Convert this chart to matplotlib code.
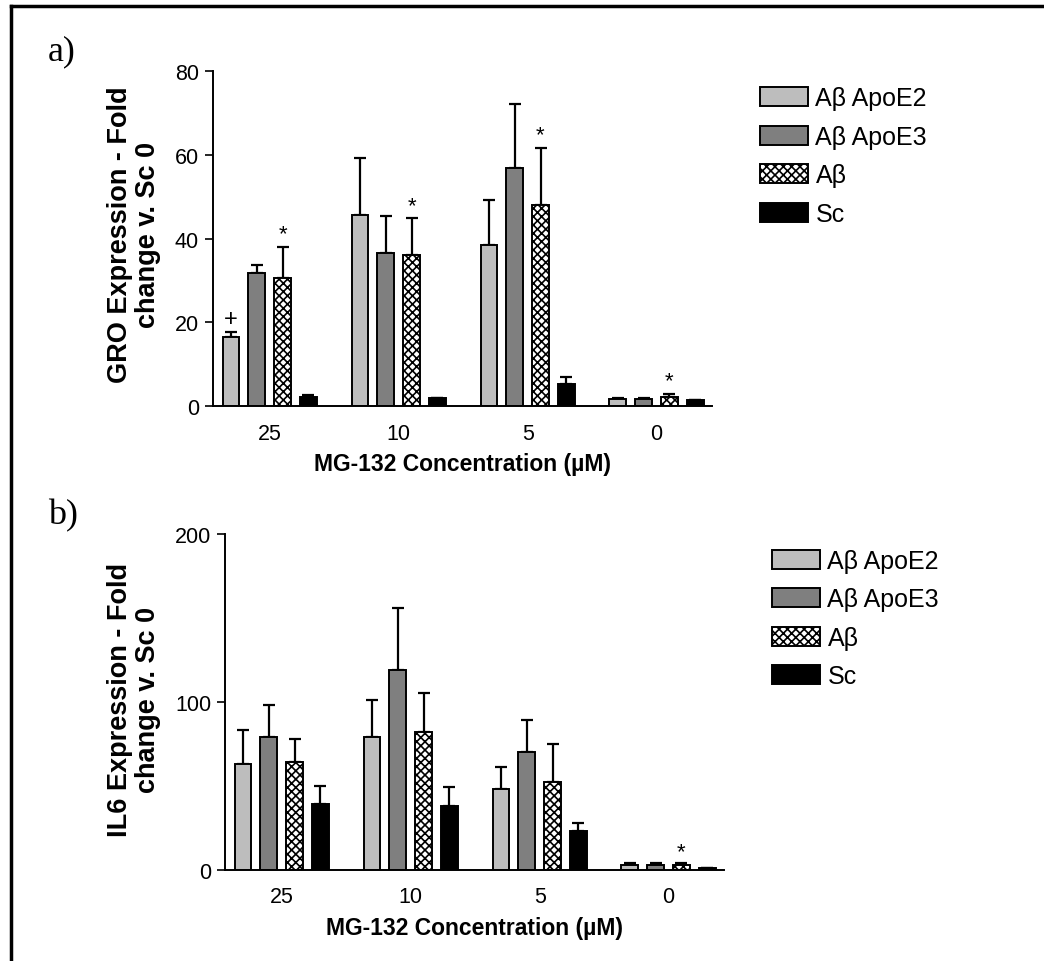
import numpy as np
import matplotlib.pyplot as plt
from matplotlib.lines import Line2D
from matplotlib.patches import Patch

plt.rcParams['font.family'] = ['Liberation Sans', 'DejaVu Sans']
plt.rcParams['hatch.linewidth'] = 1.2

# Data
concentrations = ['25', '10', '5', '0']
series = ['Aβ ApoE2', 'Aβ ApoE3', 'Aβ', 'Sc']

gro_mean = {
    'Aβ ApoE2': [16.4, 45.7, 38.4, 1.7],
    'Aβ ApoE3': [31.7, 36.5, 56.9, 1.7],
    'Aβ':       [30.5, 36.1, 48.1, 2.1],
    'Sc':       [2.1, 2.0, 5.3, 1.3],
}
gro_err = {
    'Aβ ApoE2': [1.2, 13.6, 10.8, 0.3],
    'Aβ ApoE3': [2.0, 8.9, 15.2, 0.3],
    'Aβ':       [7.5, 8.7, 13.5, 0.8],
    'Sc':       [0.4, 0.0, 1.6, 0.0],
}
il6_mean = {
    'Aβ ApoE2': [63.0, 78.8, 48.1, 3.0],
    'Aβ ApoE3': [78.8, 119.0, 69.9, 3.0],
    'Aβ':       [64.0, 82.2, 52.0, 3.0],
    'Sc':       [39.1, 38.1, 23.2, 1.0],
}
il6_err = {
    'Aβ ApoE2': [20.2, 22.3, 12.9, 1.0],
    'Aβ ApoE3': [19.3, 36.9, 19.3, 1.0],
    'Aβ':       [13.9, 23.1, 22.9, 0.8],
    'Sc':       [10.9, 11.0, 4.8, 0.0],
}
# significance marks: (series, group index, symbol)
gro_marks = [('Aβ ApoE2', 0, '+'), ('Aβ', 0, '*'), ('Aβ', 1, '*'), ('Aβ', 2, '*'), ('Aβ', 3, '*')]
il6_marks = [('Aβ', 3, '*')]

styles = {
    'Aβ ApoE2': dict(color='#bdbdbd', hatch=None),
    'Aβ ApoE3': dict(color='#7f7f7f', hatch=None),
    'Aβ':       dict(color='white', hatch='xxxx'),
    'Sc':       dict(color='black', hatch=None),
}
offsets = [-0.3, -0.1, 0.1, 0.3]
width = 0.13

fig = plt.figure(figsize=(10.44, 9.62), dpi=100)


def draw_panel(ax, means, errs, marks, ymax, yticks, mark_pad):
    x = np.arange(len(concentrations))
    for s, off in zip(series, offsets):
        st = styles[s]
        ax.bar(x + off, means[s], width, color=st['color'], hatch=st['hatch'],
               edgecolor='black', linewidth=1.4, zorder=2)
        ax.errorbar(x + off, means[s], yerr=[np.zeros(len(x)), errs[s]], fmt='none',
                    ecolor='black', elinewidth=1.6, capsize=4.5, capthick=1.6, zorder=1)
    for s, gi, sym in marks:
        xi = gi + offsets[series.index(s)]
        yi = means[s][gi] + errs[s][gi] + mark_pad
        ax.text(xi, yi, sym, ha='center', va='bottom',
                fontsize=17 if sym == '+' else 16)
    ax.set_xlim(-0.44, 3.43)
    ax.set_ylim(0, ymax)
    ax.set_yticks(yticks)
    ax.set_xticks(x)
    ax.set_xticklabels(concentrations)
    ax.tick_params(axis='x', length=0, pad=12, labelsize=15.5)
    ax.tick_params(axis='y', length=6, width=1.2, labelsize=15.5, direction='out', pad=4)
    for sp in ['top', 'right']:
        ax.spines[sp].set_visible(False)
    for sp in ['left', 'bottom']:
        ax.spines[sp].set_linewidth(1.4)
    ax.set_xlabel('MG-132 Concentration (µM)', fontsize=16.5, fontweight='bold', labelpad=6)

    handles = [Patch(facecolor=styles[s]['color'], hatch=styles[s]['hatch'],
                     edgecolor='black', linewidth=1.4) for s in series]
    ax.legend(handles, series, loc='upper left', bbox_to_anchor=(1.052, 1.022),
              frameon=False, fontsize=18, handlelength=1.9, handleheight=0.8,
              labelspacing=0.58, handletextpad=0.3)


ax1 = fig.add_axes([0.204, 0.577, 0.478, 0.348])
draw_panel(ax1, gro_mean, gro_err, gro_marks, 80, [0, 20, 40, 60, 80], 0.6)

ax2 = fig.add_axes([0.2155, 0.095, 0.478, 0.349])
draw_panel(ax2, il6_mean, il6_err, il6_marks, 200, [0, 100, 200], 0.5)

fig.text(134 / 1044, 1 - 235 / 962, 'GRO Expression - Fold\nchange v. Sc 0',
         rotation=90, ha='center', va='center', multialignment='center',
         fontsize=19.5, fontweight='bold', linespacing=1.12)
fig.text(134 / 1044, 1 - 700 / 962, 'IL6 Expression - Fold\nchange v. Sc 0',
         rotation=90, ha='center', va='center', multialignment='center',
         fontsize=19.5, fontweight='bold', linespacing=1.12)

fig.text(0.046, 1 - 60 / 962, 'a)', fontsize=26, family='Liberation Serif', va='baseline')
fig.text(0.046, 1 - 524 / 962, 'b)', fontsize=26, family='Liberation Serif', va='baseline')

# page frame lines (top and left)
fig.add_artist(Line2D([0.0105, 1.0], [0.9925, 0.9925], color='black', lw=2.5,
                      transform=fig.transFigure))
fig.add_artist(Line2D([0.0105, 0.0105], [0.0, 0.9925], color='black', lw=2.5,
                      transform=fig.transFigure))

fig.savefig('out.png', dpi=100)
